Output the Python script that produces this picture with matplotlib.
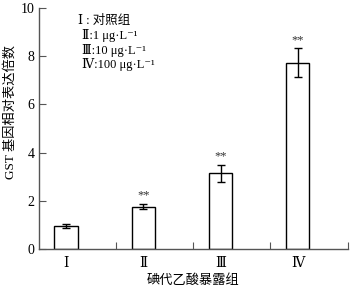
import numpy as np
import matplotlib.pyplot as plt
from matplotlib.ticker import FixedLocator

plt.rcParams['font.family'] = ['Liberation Serif', 'DejaVu Serif', 'Noto Sans CJK SC']

groups = ['Ⅰ', 'Ⅱ', 'Ⅲ', 'Ⅳ']
values = [0.97, 1.76, 3.14, 7.72]
errors = [0.08, 0.10, 0.35, 0.60]
marks = ['', '**', '**', '**']
legend_lines = ['Ⅰ : 对照组', 'Ⅱ:1 μg·L⁻¹', 'Ⅲ:10 μg·L⁻¹', 'Ⅳ:100 μg·L⁻¹']

fig = plt.figure(figsize=(3.51, 2.88), dpi=100)
ax = fig.add_axes([38.5 / 351, 39 / 288, 309 / 351, 241 / 288])

x = np.arange(len(groups))
ax.bar(x, values, width=0.3, color='white', edgecolor='black', linewidth=1.0)
ax.errorbar(x, values, yerr=errors, fmt='none', ecolor='black',
            elinewidth=1.0, capsize=3, capthick=1.0)
for xi, v, e, m in zip(x, values, errors, marks):
    if m:
        ax.text(xi, v + e + 0.1, m, ha='center', va='bottom', fontsize=9, color='#333333')

ax.set_xlim(-0.357, 3.643)
ax.set_ylim(0, 10)
ax.set_yticks([0, 2, 4, 6, 8, 10])
ax.set_xticks(x)
ax.set_xticklabels(groups, fontsize=10)
ax.xaxis.set_minor_locator(FixedLocator([0.643, 1.643, 2.643, 3.643]))
ax.tick_params(axis='x', which='major', length=0, pad=6)
ax.tick_params(axis='x', which='minor', direction='in', length=5, width=0.8, color='#555555')
ax.tick_params(axis='y', direction='in', length=5, width=0.8, labelsize=10, pad=3, color='#555555')

for s in ['top', 'right']:
    ax.spines[s].set_visible(False)
for s in ['left', 'bottom']:
    ax.spines[s].set_color('#555555')
    ax.spines[s].set_linewidth(1.0)

for i, t in enumerate(legend_lines):
    ax.text(0.16 + (0.04 if i else 0), 9.45 - i * 0.6, t, fontsize=9, ha='left', va='center')

ax.set_ylabel('GST 基因相对表达倍数', fontsize=9.5)
ax.yaxis.set_label_coords(-0.07, 0.57)
ax.set_xlabel('碘代乙酸暴露组', fontsize=9.5, labelpad=3)

fig.savefig('out.png', dpi=100)
